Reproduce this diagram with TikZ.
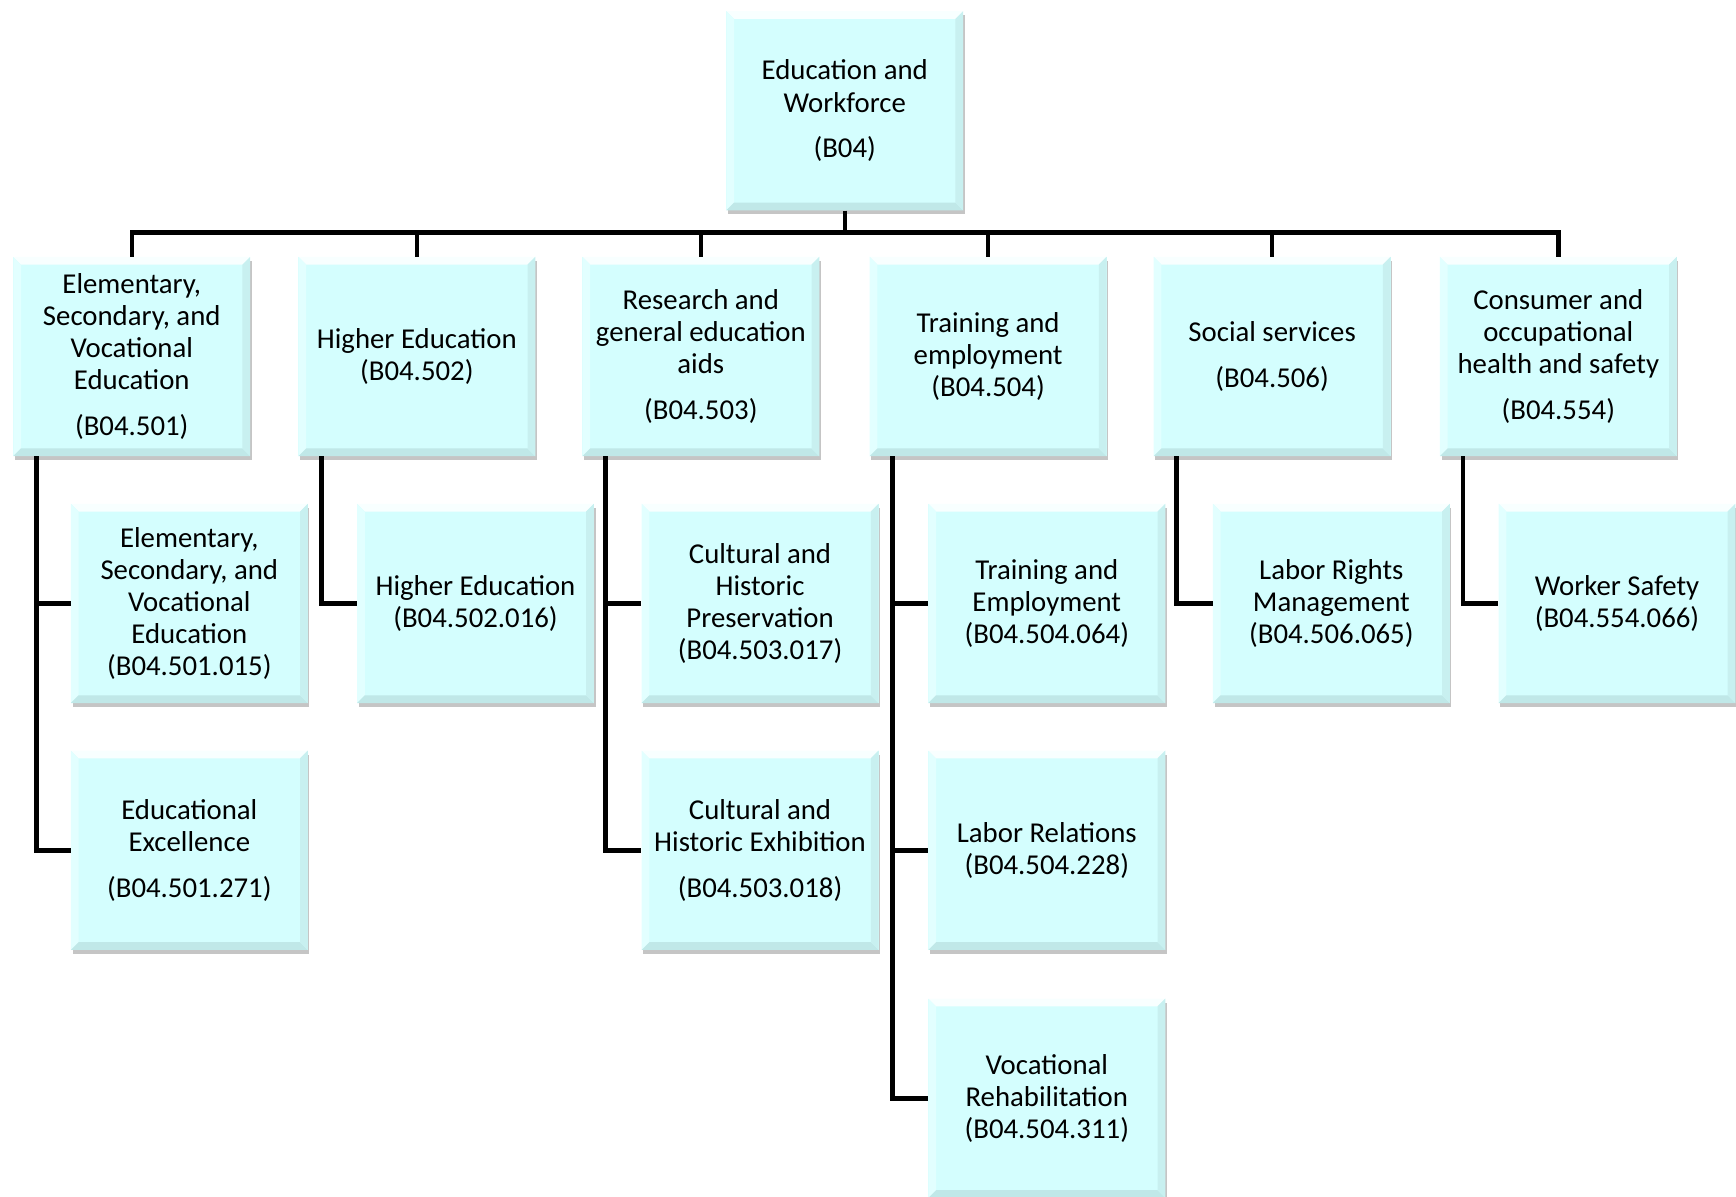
\documentclass[tikz,border=0pt]{standalone}
\usepackage{fontspec}
\setmainfont{Carlito}
\usetikzlibrary{shadows}
\definecolor{boxfill}{RGB}{212,254,254}
\definecolor{bevtop}{RGB}{248,255,255}
\definecolor{bevleft}{RGB}{226,255,255}
\definecolor{bevbot}{RGB}{192,232,232}
\definecolor{bevright}{RGB}{200,240,240}
\tikzset{
  box/.style={rectangle, fill=boxfill, minimum width=214pt, minimum height=180pt,
    inner sep=0pt, align=center, font=\fontsize{26}{29}\selectfont, text=black,
    drop shadow={shadow xshift=1.5pt, shadow yshift=-3.5pt, fill=black!45, opacity=0.5},
    path picture={
      \coordinate (nw) at (path picture bounding box.north west);
      \coordinate (ne) at (path picture bounding box.north east);
      \coordinate (sw) at (path picture bounding box.south west);
      \coordinate (se) at (path picture bounding box.south east);
      \fill[bevtop] (nw) -- (ne) -- ([shift={(-7pt,-7pt)}]ne) -- ([shift={(7pt,-7pt)}]nw) -- cycle;
      \fill[bevleft] (nw) -- ([shift={(7pt,-7pt)}]nw) -- ([shift={(7pt,7pt)}]sw) -- (sw) -- cycle;
      \fill[bevbot] (sw) -- (se) -- ([shift={(-7pt,7pt)}]se) -- ([shift={(7pt,7pt)}]sw) -- cycle;
      \fill[bevright] (ne) -- (se) -- ([shift={(-7pt,7pt)}]se) -- ([shift={(-7pt,-7pt)}]ne) -- cycle;
    }},
  conn/.style={line width=4pt, draw=black, line join=miter}
}
\begin{document}
\begin{tikzpicture}[x=1pt, y=-1pt]
\useasboundingbox (0,0) rectangle (1568,1081);
\clip (0,0) rectangle (1568,1081);

% top
\node[box] (top) at (763,100) {Education and\\Workforce\\[12pt](B04)};

% level 1
\node[box] (p1) at (119,322) {Elementary,\\Secondary, and\\Vocational\\Education\\[12pt](B04.501)};
\node[box] (p2) at (376.5,322) {Higher Education\\(B04.502)};
\node[box] (p3) at (633,322) {Research and\\general education\\aids\\[12pt](B04.503)};
\node[box] (p4) at (892.5,322) {Training and\\employment\\(B04.504)};
\node[box] (p5) at (1149,322) {Social services\\[12pt](B04.506)};
\node[box] (p6) at (1407.5,322) {Consumer and\\occupational\\health and safety\\[12pt](B04.554)};

% level 2
\node[box] (c11) at (171,545) {Elementary,\\Secondary, and\\Vocational\\Education\\(B04.501.015)};
\node[box] (c12) at (171,768) {Educational\\Excellence\\[12pt](B04.501.271)};
\node[box] (c21) at (429.5,545) {Higher Education\\(B04.502.016)};
\node[box] (c31) at (686.5,545) {Cultural and\\Historic\\Preservation\\(B04.503.017)};
\node[box] (c32) at (686.5,768) {Cultural and\\Historic Exhibition\\[12pt](B04.503.018)};
\node[box] (c41) at (945.5,545) {Training and\\Employment\\(B04.504.064)};
\node[box] (c42) at (945.5,768) {Labor Relations\\(B04.504.228)};
\node[box] (c43) at (945.5,992) {Vocational\\Rehabilitation\\(B04.504.311)};
\node[box] (c51) at (1202.5,545) {Labor Rights\\Management\\(B04.506.065)};
\node[box] (c61) at (1460.5,545) {Worker Safety\\(B04.554.066)};

% connectors top
\coordinate (bar) at (763,210);
\draw[conn] (top.south) -- (bar);
\foreach \p in {p1,p2,p3,p4,p5,p6}
  \draw[conn] (bar) -| (\p.north);

% connectors children
\draw[conn] ([xshift=21pt]p1.south west) |- (c11.west);
\draw[conn] ([xshift=21pt]p1.south west) |- (c12.west);
\draw[conn] ([xshift=21pt]p2.south west) |- (c21.west);
\draw[conn] ([xshift=21pt]p3.south west) |- (c31.west);
\draw[conn] ([xshift=21pt]p3.south west) |- (c32.west);
\draw[conn] ([xshift=21pt]p4.south west) |- (c41.west);
\draw[conn] ([xshift=21pt]p4.south west) |- (c42.west);
\draw[conn] ([xshift=21pt]p4.south west) |- (c43.west);
\draw[conn] ([xshift=21pt]p5.south west) |- (c51.west);
\draw[conn] ([xshift=21pt]p6.south west) |- (c61.west);
\end{tikzpicture}
\end{document}
